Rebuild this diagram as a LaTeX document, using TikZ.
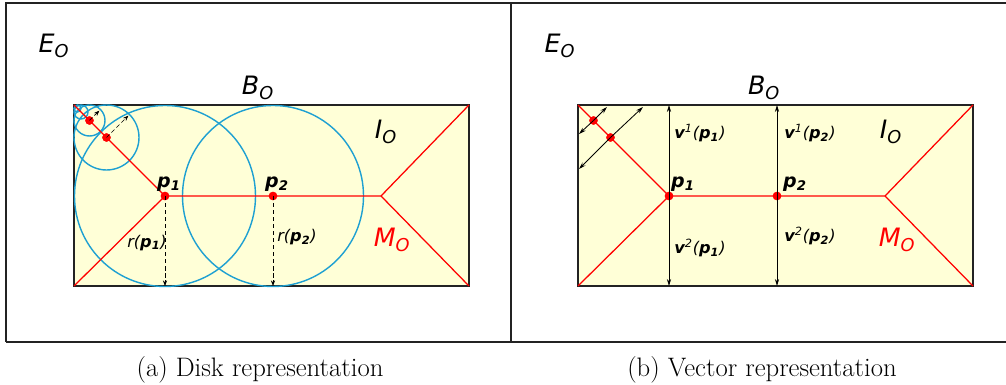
\documentclass[tikz,border=0pt]{standalone}
\usepackage{fontspec}
\usetikzlibrary{arrows.meta, positioning, calc}
\newfontfamily\lblfont{DejaVu Sans}
\definecolor{shapefill}{RGB}{255,255,215}
\definecolor{diskblue}{RGB}{30,160,210}
\definecolor{framegray}{RGB}{35,35,35}

\tikzset{
  outline/.style={framegray, line width=1.1pt},
  medial/.style={red, line width=0.9pt},
  pt/.style={circle, fill=red, inner sep=0pt, minimum size=6pt},
  disk/.style={diskblue, line width=1pt},
  radarrow/.style={densely dashed, line width=0.5pt, -{Stealth[length=4pt, width=3pt]}},
  vecarrow/.style={line width=0.6pt, -{Stealth[length=5pt, width=3pt]}},
  biglbl/.style={font=\lblfont\itshape\fontsize{18}{20}\selectfont},
  ptlbl/.style={font=\lblfont\bfseries\itshape\fontsize{13.5}{15}\selectfont},
  smalllbl/.style={font=\lblfont\itshape\fontsize{11.5}{13}\selectfont},
  caption/.style={font=\fontsize{19}{22}\selectfont},
}

\begin{document}
\begin{tikzpicture}[x=0.025cm, y=-0.025cm]
\useasboundingbox (0,0) rectangle (1006,385);
% Frame
\draw[outline] (6,342) -- (6,3) -- (1006,3);
\draw[outline] (6,342) -- (1006,342);
\draw[outline] (511,3) -- (511,342);

% (a) Disk representation
\draw[outline, fill=shapefill] (74,105) rectangle (469,286);
\coordinate (a-tl) at (74,105);
\coordinate (a-bl) at (74,286);
\coordinate (a-tr) at (469,105);
\coordinate (a-br) at (469,286);
\coordinate (a-j) at (381,196);
% Disks
\draw[disk] (77.5,108.5) circle[radius=3.5];
\draw[disk] (81,112) circle[radius=7];
\draw[disk] (89.5,120.5) circle[radius=15.5];
\draw[disk] (106.5,137.5) circle[radius=32.5];
\draw[disk] (165,196) circle[radius=90.5];
\draw[disk] (273,196) circle[radius=90.5];
% Medial axis
\node[pt] (a-p1) at (165,196) {};
\node[pt] (a-p2) at (273,196) {};
\node[pt] (a-q1) at (89.5,120.5) {};
\node[pt] (a-q2) at (106.5,137.5) {};
\draw[medial] (a-tl) -- (a-p1.center) -- (a-j) -- (a-tr);
\draw[medial] (a-bl) -- (a-p1.center);
\draw[medial] (a-j) -- (a-br);
\node[pt] at (a-p1) {};
\node[pt] at (a-p2) {};
\node[pt] at (a-q1) {};
\node[pt] at (a-q2) {};
% Radii
\coordinate (a-r1) at ($(a-q1.center)+(-45:14)$);
\coordinate (a-r2) at ($(a-q2.center)+(-45:31)$);
\draw[radarrow] (a-q1.center) -- (a-r1);
\draw[radarrow] (a-q2.center) -- (a-r2);
\draw[radarrow] (a-p1.center) -- (a-p1.center |- a-bl);
\draw[radarrow] (a-p2.center) -- (a-p2.center |- a-bl);
% Labels
\node[biglbl] (a-E) at (54,46) {E\textsubscript{O}};
\node[biglbl] (a-B) at (258,88) {B\textsubscript{O}};
\node[biglbl] (a-I) at (386,132) {I\textsubscript{O}};
\node[biglbl, red] (a-M) at (392,240) {M\textsubscript{O}};
\node[ptlbl] (a-p1lbl) at (169,184) {p\textsubscript{1}};
\node[ptlbl] (a-p2lbl) at (277,184) {p\textsubscript{2}};
\node[smalllbl] (a-r1lbl) at (147,243) {r(\textbf{p\textsubscript{1}})};
\node[smalllbl] (a-r2lbl) at (297,237) {r(\textbf{p\textsubscript{2}})};
\node[caption] (a-cap) at (260,370) {(a) Disk representation};

% (b) Vector representation
\draw[outline, fill=shapefill] (578,105) rectangle (973,286);
\coordinate (b-tl) at (578,105);
\coordinate (b-bl) at (578,286);
\coordinate (b-tr) at (973,105);
\coordinate (b-br) at (973,286);
\coordinate (b-j) at (885,196);
\node[pt] (b-p1) at (669,196) {};
\node[pt] (b-p2) at (777,196) {};
\node[pt] (b-q1) at (593.5,120.5) {};
\node[pt] (b-q2) at (610.5,137.5) {};
% Medial axis
\draw[medial] (b-tl) -- (b-p1.center) -- (b-j) -- (b-tr);
\draw[medial] (b-bl) -- (b-p1.center);
\draw[medial] (b-j) -- (b-br);
\node[pt] at (b-p1) {};
\node[pt] at (b-p2) {};
\node[pt] at (b-q1) {};
\node[pt] at (b-q2) {};
% Vectors
\coordinate (b-q1t) at (607,107);
\coordinate (b-q1l) at (579,134);
\coordinate (b-q2t) at (643,107);
\coordinate (b-q2l) at (579,169);
\draw[vecarrow] (b-q1.center) -- (b-q1t);
\draw[vecarrow] (b-q1.center) -- (b-q1l);
\draw[vecarrow] (b-q2.center) -- (b-q2t);
\draw[vecarrow] (b-q2.center) -- (b-q2l);
\draw[vecarrow] (b-p1.center) -- (b-p1.center |- b-tl);
\draw[vecarrow] (b-p1.center) -- (b-p1.center |- b-bl);
\draw[vecarrow] (b-p2.center) -- (b-p2.center |- b-tl);
\draw[vecarrow] (b-p2.center) -- (b-p2.center |- b-bl);
% Labels
\node[biglbl] (b-E) at (560,46) {E\textsubscript{O}};
\node[biglbl] (b-B) at (764,88) {B\textsubscript{O}};
\node[biglbl] (b-I) at (891,132) {I\textsubscript{O}};
\node[biglbl, red] (b-M) at (897,240) {M\textsubscript{O}};
\node[ptlbl] (b-p1lbl) at (683,184) {p\textsubscript{1}};
\node[ptlbl] (b-p2lbl) at (795,184) {p\textsubscript{2}};
\node[smalllbl] (b-v1lbl) at (700,133) {\textbf{v}\textsuperscript{1}(\textbf{p\textsubscript{1}})};
\node[smalllbl] (b-v2lbl) at (810,133) {\textbf{v}\textsuperscript{1}(\textbf{p\textsubscript{2}})};
\node[smalllbl] (b-v3lbl) at (700,248) {\textbf{v}\textsuperscript{2}(\textbf{p\textsubscript{1}})};
\node[smalllbl] (b-v4lbl) at (810,236) {\textbf{v}\textsuperscript{2}(\textbf{p\textsubscript{2}})};
\node[caption] (b-cap) at (762,370) {(b) Vector representation};
\end{tikzpicture}
\end{document}
